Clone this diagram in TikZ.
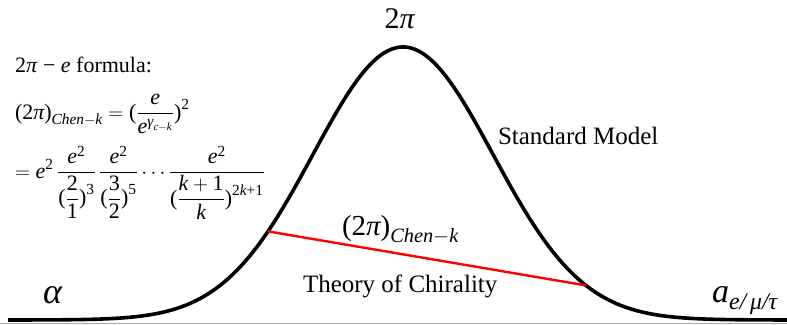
\documentclass[tikz,border=0pt]{standalone}
\usepackage{amsmath}
\usepackage{fontspec}
\setmainfont{Liberation Serif}
\newcommand{\mi}[1]{\text{\normalfont\itshape #1}}
\newcommand{\mr}[1]{\text{\normalfont #1}}
\newcommand{\pfrac}[3]{\mr{(}{\displaystyle\frac{#1}{#2}}\mr{)}^{#3}}
\begin{document}
\begin{tikzpicture}[x=1pt,y=-1pt,
  lbl/.style={inner sep=0pt, outer sep=0pt},
  bell/.style={line width=3.6pt, black, line join=round},
  chord/.style={line width=2.4pt, red},
  baseline rule/.style={line width=1pt, black!35}]
\useasboundingbox (0,0) rectangle (787,324);
\fill[white] (0,0) rectangle (787,324);
\draw[baseline rule] (0,323.5) -- (787,323.5);
\draw[bell] plot[domain=8:787, samples=260, smooth] (\x,{320-273*exp(-0.5*((\x-403)/90)^2)});
\coordinate (L) at (268,{320-273*exp(-0.5*((268-403)/90)^2)});
\coordinate (R) at (586,{320-273*exp(-0.5*((586-403)/90)^2)});
\draw[chord] (L) -- (R);
% texts
\node[lbl, anchor=base west, font=\fontsize{22}{26}\selectfont] (f1) at (15,72) {2\textit{π} − \textit{e}  formula:};
\node[lbl, anchor=base west, font=\fontsize{22}{26}\selectfont] (f2) at (15,119)
  {$\displaystyle \mr{(2}\mi{π}\mr{)}_{\mi{Chen}-\mi{k}} = \mr{(}\frac{\mi{e}}{\mi{e}^{\mi{γ}_{\mi{c}-\mi{k}}}}\mr{)}^{\mr{2}}$};
\node[lbl, anchor=base west, font=\fontsize{22}{26}\selectfont] (f3) at (15,178)
  {$\displaystyle = \mi{e}^{\mr{2}}\,\frac{\mi{e}^{\mr{2}}}{\pfrac{\mr{2}}{\mr{1}}{\mr{3}}}\,\frac{\mi{e}^{\mr{2}}}{\pfrac{\mr{3}}{\mr{2}}{\mr{5}}}\cdots\frac{\mi{e}^{\mr{2}}}{\pfrac{\mi{k}+\mr{1}}{\mi{k}}{\mr{2}\mi{k}\mr{+1}}}$};
\node[lbl, anchor=base, font=\fontsize{30}{36}\selectfont] (top) at (400,28) {2\textit{π}};
\node[lbl, anchor=base west, font=\fontsize{25}{30}\selectfont] (sm) at (498,144) {Standard Model};
\node[lbl, anchor=base west, font=\fontsize{29}{34}\selectfont] (ck) at (342,235) {$\mr{(2}\mi{π}\mr{)}_{\mi{Chen}-\mi{k}}$};
\node[lbl, anchor=base west, font=\fontsize{25}{30}\selectfont] (tc) at (303,292) {Theory of Chirality};
\node[lbl, anchor=base west, font=\fontsize{36}{40}\selectfont] (al) at (43,303) {\textit{α}};
\node[lbl, anchor=base west, font=\fontsize{34}{40}\selectfont] (ae) at (712,302) {$\mi{a}_{\mi{e/\,μ/τ}}$};
\end{tikzpicture}
\end{document}
